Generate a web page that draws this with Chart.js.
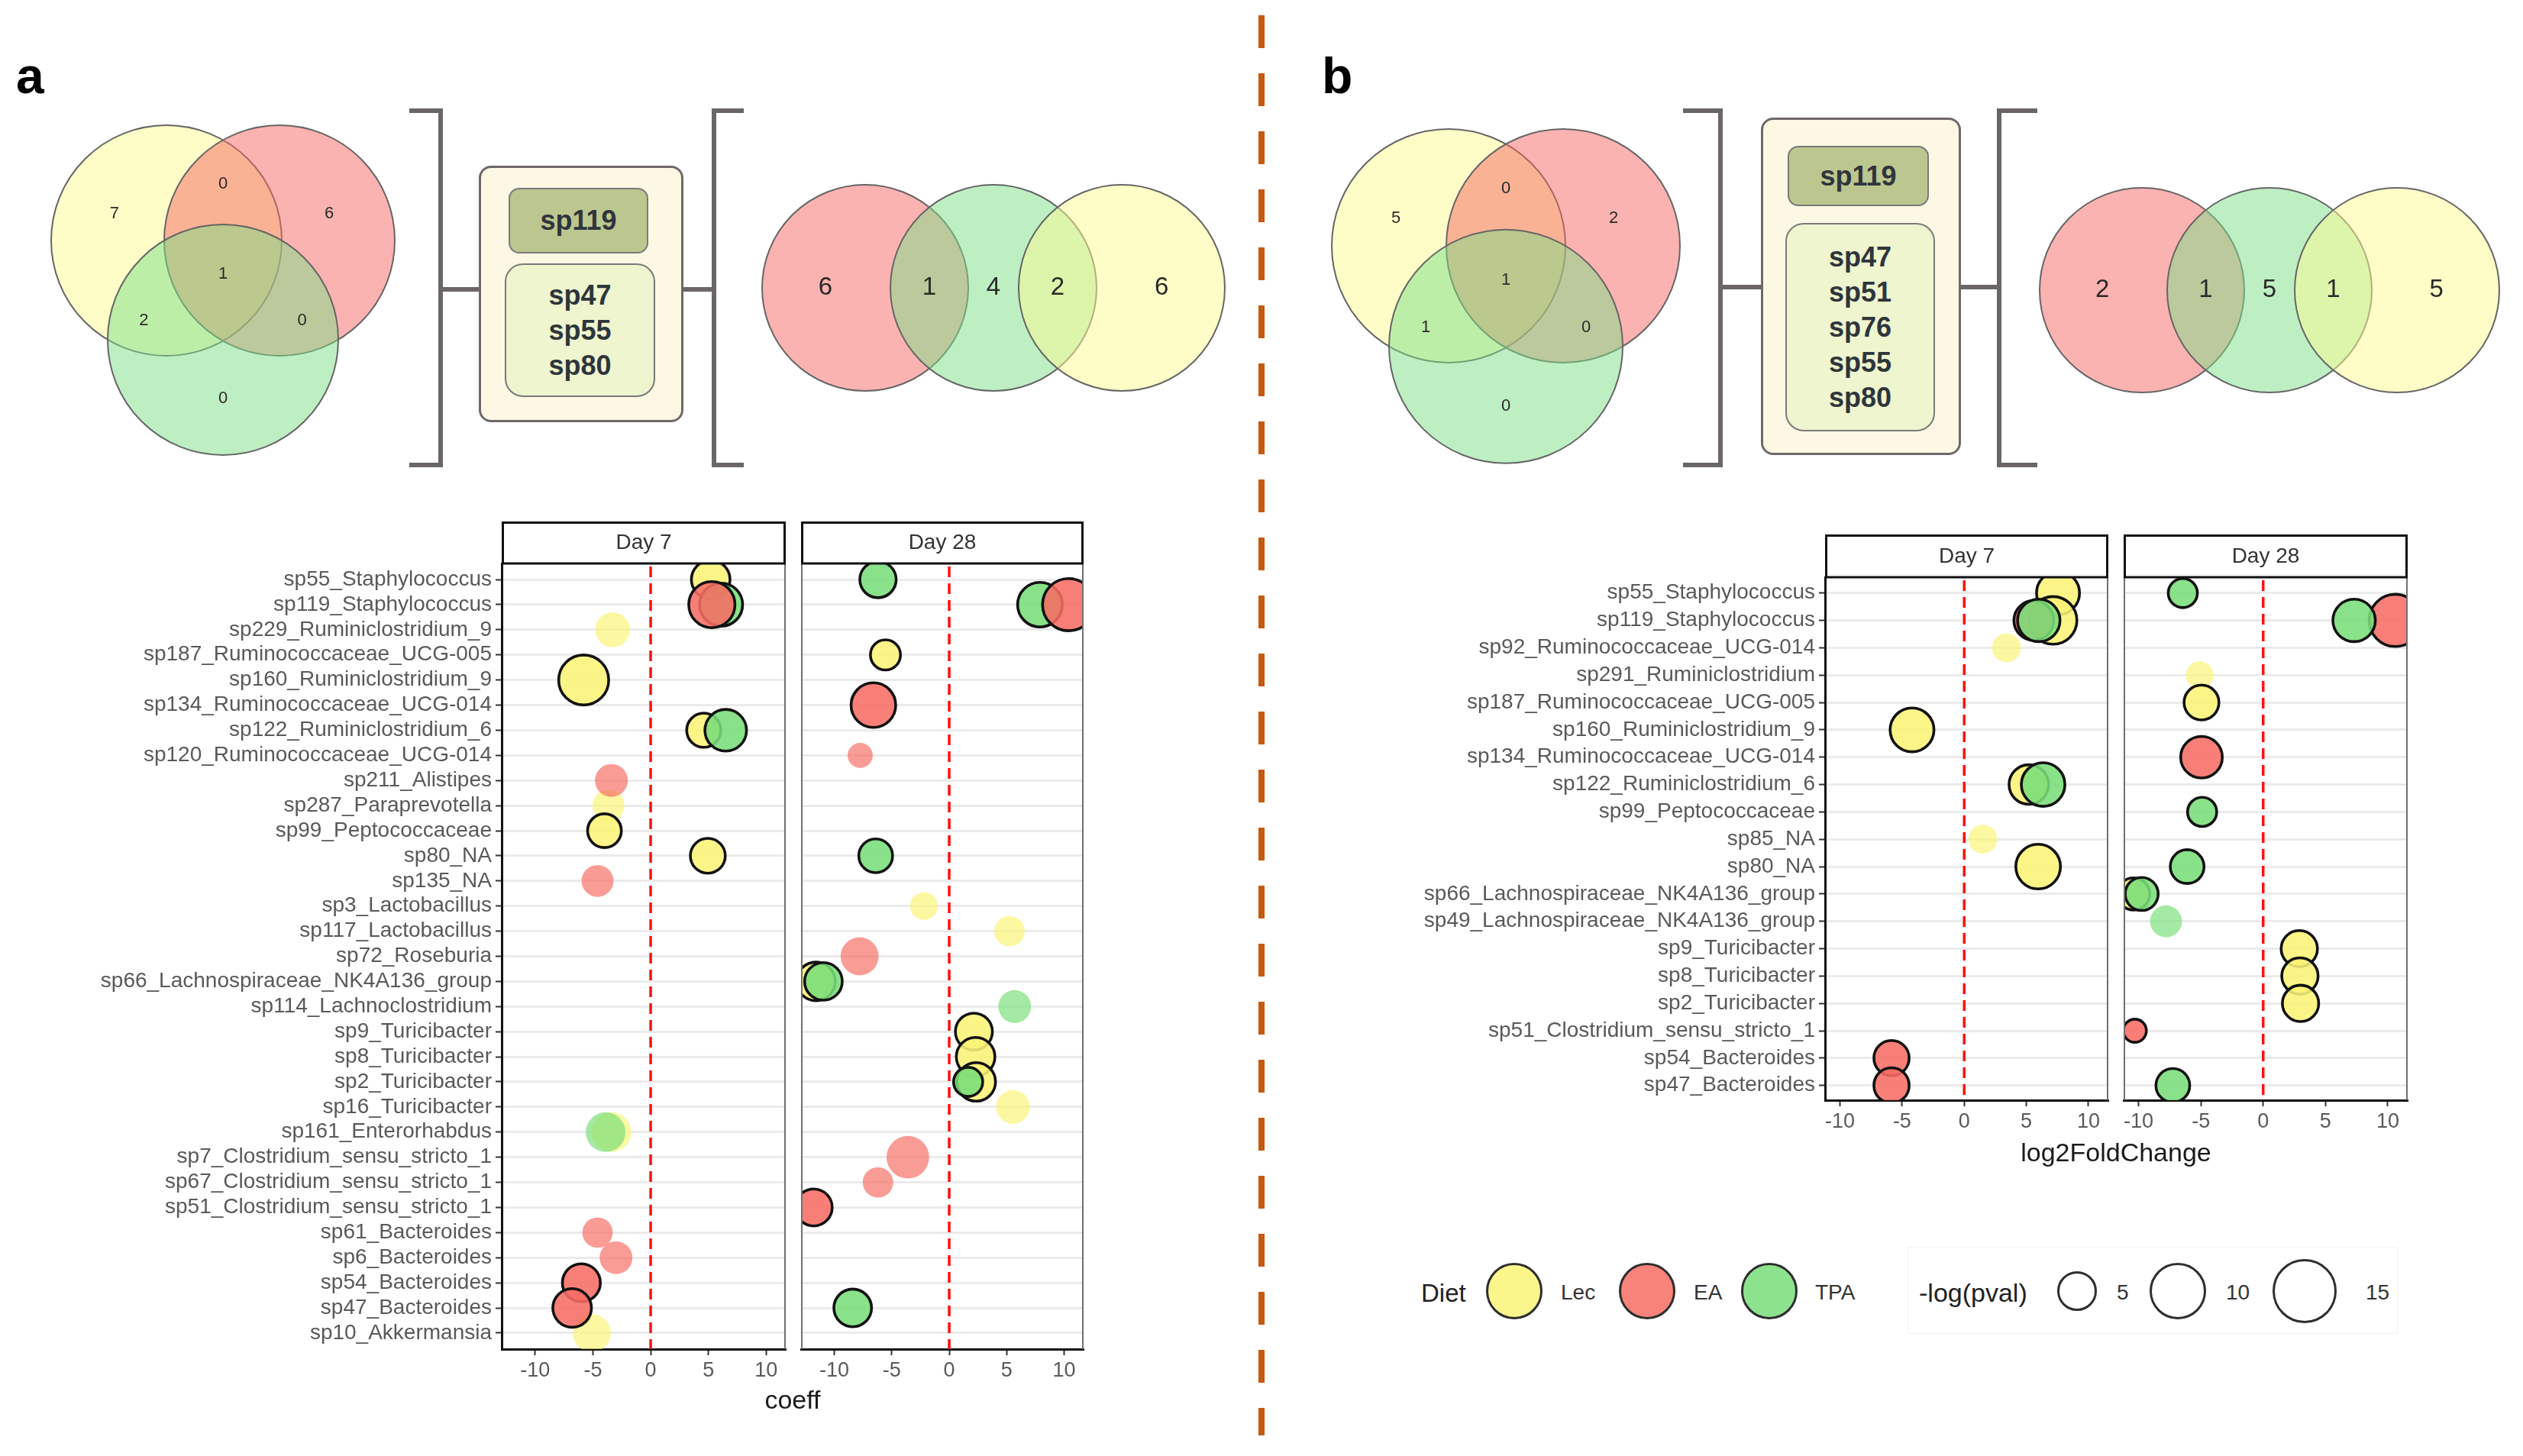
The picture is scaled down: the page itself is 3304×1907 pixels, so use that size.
<!DOCTYPE html>
<html lang="en">
<head>
<meta charset="UTF-8">
<title>Shared species and diet effects - panels a and b</title>
<script src="https://cdn.jsdelivr.net/npm/chart.js"></script>
<style>
    body {
        margin: 0;
        background: #fff;
        font-family: "Liberation Sans", Arial, Helvetica, sans-serif;
    }
    #page {
        position: relative;
        width: 3304px;
        height: 1907px;
        overflow: hidden;
        background: #fff;
    }
    canvas { position: absolute; }
    .tag {
        position: absolute;
        font-size: 66px;
        line-height: 66px;
        font-weight: bold;
        color: #000;
    }
    .divider {
        position: absolute;
        left: 1648px;
        top: 20px;
        width: 8px;
        height: 1860px;
        background: repeating-linear-gradient(to bottom, #c55a11 0 43px, transparent 43px 76px);
    }
    .bracket { position: absolute; box-sizing: border-box; border: 6px solid #6b6666; }
    .bracket.close { border-left: none; }
    .bracket.open { border-right: none; }
    .stem { position: absolute; height: 6px; background: #6b6666; }
    .core {
        position: absolute;
        box-sizing: border-box;
        background: #fdf8e4;
        border: 3px solid #6e6868;
        border-radius: 16px;
    }
    .core-box {
        position: absolute;
        box-sizing: border-box;
        border: 2px solid #7a7a7a;
        display: flex;
        flex-direction: column;
        justify-content: center;
        align-items: center;
        font-weight: bold;
        font-size: 36px;
        line-height: 46px;
        color: #2f353b;
    }
    .core-box.all { background: #bcc78f; border-radius: 14px; }
    .core-box.some { background: #eef5cf; border-radius: 24px; }
    .axis-title {
        position: absolute;
        font-size: 34px;
        line-height: 34px;
        color: #1a1a1a;
        transform: translate(-50%, -50%);
        white-space: nowrap;
    }
    .lg-text {
        position: absolute;
        line-height: 1;
        transform: translateY(-50%);
        color: #333;
        white-space: nowrap;
    }
    .lg-dot {
        position: absolute;
        box-sizing: border-box;
        border-radius: 50%;
        border: 3px solid #2e2e2e;
    }
</style>
</head>
<body>
<div id="page">
    <canvas id="vennA" width="1650" height="640" style="left:0;top:0"></canvas>
    <canvas id="vennB" width="1654" height="640" style="left:1650px;top:0"></canvas>

    <canvas id="aDay7" width="1034" height="1136" style="left:0;top:683px"></canvas>
    <canvas id="aDay28" width="385" height="1136" style="left:1039px;top:683px"></canvas>
    <canvas id="bDay7" width="986" height="793" style="left:1780px;top:700px"></canvas>
    <canvas id="bDay28" width="387" height="793" style="left:2771px;top:700px"></canvas>

    <div class="divider"></div>
    <div class="tag" style="left:21px;top:66px">a</div>
    <div class="tag" style="left:1731px;top:66px">b</div>

    <!-- panel a: core species box between the Venn diagrams -->
    <div class="bracket close" style="left:536px;top:142px;width:44px;height:470px"></div>
    <div class="stem" style="left:580px;top:376px;width:47px"></div>
    <div class="core" style="left:627px;top:217px;width:268px;height:336px"></div>
    <div class="core-box all" id="aTop" style="left:666px;top:246px;width:183px;height:86px"></div>
    <div class="core-box some" id="aBottom" style="left:661px;top:345px;width:197px;height:175px"></div>
    <div class="stem" style="left:895px;top:376px;width:37px"></div>
    <div class="bracket open" style="left:932px;top:142px;width:42px;height:470px"></div>

    <!-- panel b -->
    <div class="bracket close" style="left:2204px;top:142px;width:52px;height:470px"></div>
    <div class="stem" style="left:2256px;top:373px;width:50px"></div>
    <div class="core" style="left:2306px;top:154px;width:262px;height:442px"></div>
    <div class="core-box all" id="bTop" style="left:2341px;top:191px;width:185px;height:79px"></div>
    <div class="core-box some" id="bBottom" style="left:2338px;top:292px;width:196px;height:273px"></div>
    <div class="stem" style="left:2568px;top:373px;width:50px"></div>
    <div class="bracket open" style="left:2615px;top:142px;width:53px;height:470px"></div>

    <div class="axis-title" style="left:1038px;top:1833px">coeff</div>
    <div class="axis-title" style="left:2771px;top:1509px">log2FoldChange</div>

    <!-- legend -->
    <div class="lg-text" style="left:1861px;top:1693px;font-size:33px;color:#222">Diet</div>
    <div class="lg-dot" style="left:1946px;top:1654px;width:74px;height:74px;background:#fbf68b"></div>
    <div class="lg-text" style="left:2044px;top:1693px;font-size:28px">Lec</div>
    <div class="lg-dot" style="left:2120px;top:1654px;width:74px;height:74px;background:#f8837b"></div>
    <div class="lg-text" style="left:2218px;top:1693px;font-size:28px">EA</div>
    <div class="lg-dot" style="left:2280px;top:1654px;width:74px;height:74px;background:#8de38d"></div>
    <div class="lg-text" style="left:2377px;top:1693px;font-size:28px">TPA</div>
    <div style="position:absolute;left:2498px;top:1633px;width:640px;height:112px;border:1px solid #f2f2f2"></div>
    <div class="lg-text" style="left:2513px;top:1693px;font-size:34px;color:#222">-log(pval)</div>
    <div class="lg-dot" style="left:2694px;top:1665px;width:52px;height:52px"></div>
    <div class="lg-text" style="left:2772px;top:1693px;font-size:28px">5</div>
    <div class="lg-dot" style="left:2815px;top:1654px;width:74px;height:74px"></div>
    <div class="lg-text" style="left:2915px;top:1693px;font-size:28px">10</div>
    <div class="lg-dot" style="left:2976px;top:1649px;width:84px;height:84px"></div>
    <div class="lg-text" style="left:3098px;top:1693px;font-size:28px">15</div>
</div>

<script>
    // ---------- data ----------
    // Venn counts: Lec only, Lec+EA, EA only, all three, Lec+TPA, EA+TPA, TPA only
    const vennATriple = [7, 0, 6, 1, 2, 0, 0];
    const vennBTriple = [5, 0, 2, 1, 1, 0, 0];
    // chained Venn (EA | EA+TPA | TPA | TPA+Lec | Lec)
    const vennAChain = [6, 1, 4, 2, 6];
    const vennBChain = [2, 1, 5, 1, 5];

    const aCoreAll = ['sp119'];
    const aCoreSome = ['sp47', 'sp55', 'sp80'];
    const bCoreAll = ['sp119'];
    const bCoreSome = ['sp47', 'sp51', 'sp76', 'sp55', 'sp80'];

    const xTicks = [-10, -5, 0, 5, 10];

    const aSpecies = ['sp55_Staphylococcus', 'sp119_Staphylococcus', 'sp229_Ruminiclostridium_9',
        'sp187_Ruminococcaceae_UCG-005', 'sp160_Ruminiclostridium_9', 'sp134_Ruminococcaceae_UCG-014',
        'sp122_Ruminiclostridium_6', 'sp120_Ruminococcaceae_UCG-014', 'sp211_Alistipes',
        'sp287_Paraprevotella', 'sp99_Peptococcaceae', 'sp80_NA', 'sp135_NA', 'sp3_Lactobacillus',
        'sp117_Lactobacillus', 'sp72_Roseburia', 'sp66_Lachnospiraceae_NK4A136_group',
        'sp114_Lachnoclostridium', 'sp9_Turicibacter', 'sp8_Turicibacter', 'sp2_Turicibacter',
        'sp16_Turicibacter', 'sp161_Enterorhabdus', 'sp7_Clostridium_sensu_stricto_1',
        'sp67_Clostridium_sensu_stricto_1', 'sp51_Clostridium_sensu_stricto_1', 'sp61_Bacteroides',
        'sp6_Bacteroides', 'sp54_Bacteroides', 'sp47_Bacteroides', 'sp10_Akkermansia'];

    const bSpecies = ['sp55_Staphylococcus', 'sp119_Staphylococcus', 'sp92_Ruminococcaceae_UCG-014',
        'sp291_Ruminiclostridium', 'sp187_Ruminococcaceae_UCG-005', 'sp160_Ruminiclostridium_9',
        'sp134_Ruminococcaceae_UCG-014', 'sp122_Ruminiclostridium_6', 'sp99_Peptococcaceae', 'sp85_NA',
        'sp80_NA', 'sp66_Lachnospiraceae_NK4A136_group', 'sp49_Lachnospiraceae_NK4A136_group',
        'sp9_Turicibacter', 'sp8_Turicibacter', 'sp2_Turicibacter', 'sp51_Clostridium_sensu_stricto_1',
        'sp54_Bacteroides', 'sp47_Bacteroides'];

    // rows: [species, effect, -log(pval), significant]
    const aDay7Lec = [['sp55_Staphylococcus', 5.2, 4.6, 1], ['sp229_Ruminiclostridium_9', -3.3, 2.8, 0],
        ['sp160_Ruminiclostridium_9', -5.8, 8.9, 1], ['sp122_Ruminiclostridium_6', 4.6, 3.3, 1],
        ['sp287_Paraprevotella', -3.65, 2.1, 0], ['sp99_Peptococcaceae', -4.0, 3.2, 1],
        ['sp80_NA', 4.95, 3.5, 1], ['sp161_Enterorhabdus', -3.4, 4.1, 0], ['sp10_Akkermansia', -5.1, 3.6, 0]];
    const aDay7EA = [['sp119_Staphylococcus', 5.3, 7.3, 1], ['sp211_Alistipes', -3.4, 2.3, 0],
        ['sp135_NA', -4.6, 2.1, 0], ['sp61_Bacteroides', -4.6, 1.8, 0], ['sp6_Bacteroides', -3.0, 2.3, 0],
        ['sp54_Bacteroides', -6.0, 4.4, 1], ['sp47_Bacteroides', -6.8, 4.6, 1]];
    const aDay7TPA = [['sp119_Staphylococcus', 6.1, 6.1, 1], ['sp122_Ruminiclostridium_6', 6.5, 5.6, 1],
        ['sp161_Enterorhabdus', -3.9, 4.1, 0]];
    const aDay28Lec = [['sp187_Ruminococcaceae_UCG-005', -5.55, 2.3, 1], ['sp3_Lactobacillus', -2.2, 1.3, 0],
        ['sp117_Lactobacillus', 5.25, 1.8, 0], ['sp66_Lachnospiraceae_NK4A136_group', -11.6, 4.6, 1],
        ['sp9_Turicibacter', 2.15, 4.1, 1], ['sp8_Turicibacter', 2.3, 4.6, 1],
        ['sp2_Turicibacter', 2.35, 4.6, 1], ['sp16_Turicibacter', 5.55, 2.5, 0]];
    const aDay28EA = [['sp119_Staphylococcus', 10.4, 9.9, 1], ['sp134_Ruminococcaceae_UCG-014', -6.6, 6.7, 1],
        ['sp120_Ruminococcaceae_UCG-014', -7.75, 0.9, 0], ['sp72_Roseburia', -7.8, 3.6, 0],
        ['sp7_Clostridium_sensu_stricto_1', -3.6, 5.0, 0], ['sp67_Clostridium_sensu_stricto_1', -6.2, 1.8, 0],
        ['sp51_Clostridium_sensu_stricto_1', -11.8, 4.1, 1]];
    const aDay28TPA = [['sp55_Staphylococcus', -6.2, 3.9, 1], ['sp119_Staphylococcus', 7.9, 6.7, 1],
        ['sp80_NA', -6.4, 3.2, 1], ['sp66_Lachnospiraceae_NK4A136_group', -10.95, 4.3, 1],
        ['sp114_Lachnoclostridium', 5.7, 2.3, 0], ['sp2_Turicibacter', 1.65, 2.1, 1],
        ['sp47_Bacteroides', -8.4, 4.3, 1]];

    const bDay7Lec = [['sp55_Staphylococcus', 7.55, 6.1, 1], ['sp119_Staphylococcus', 7.15, 7.9, 1],
        ['sp92_Ruminococcaceae_UCG-014', 3.4, 1.5, 0], ['sp160_Ruminiclostridium_9', -4.2, 6.4, 1],
        ['sp122_Ruminiclostridium_6', 5.2, 4.9, 1], ['sp85_NA', 1.5, 1.5, 0], ['sp80_NA', 5.95, 6.7, 1]];
    const bDay7EA = [['sp119_Staphylococcus', 5.6, 5.0, 1], ['sp54_Bacteroides', -5.85, 3.6, 1],
        ['sp47_Bacteroides', -5.85, 3.6, 1]];
    const bDay7TPA = [['sp119_Staphylococcus', 6.0, 5.9, 1], ['sp122_Ruminiclostridium_6', 6.35, 6.3, 1]];
    const bDay28Lec = [['sp291_Ruminiclostridium', -5.1, 1.3, 0], ['sp187_Ruminococcaceae_UCG-005', -4.95, 3.5, 1],
        ['sp66_Lachnospiraceae_NK4A136_group', -10.4, 2.8, 1], ['sp9_Turicibacter', 2.9, 3.9, 1],
        ['sp8_Turicibacter', 2.95, 3.9, 1], ['sp2_Turicibacter', 3.0, 3.9, 1]];
    const bDay28EA = [['sp119_Staphylococcus', 10.6, 9.9, 1], ['sp134_Ruminococcaceae_UCG-014', -4.95, 5.6, 1],
        ['sp51_Clostridium_sensu_stricto_1', -10.3, 1.0, 1]];
    const bDay28TPA = [['sp55_Staphylococcus', -6.45, 2.1, 1], ['sp119_Staphylococcus', 7.3, 5.9, 1],
        ['sp99_Peptococcaceae', -4.9, 2.1, 1], ['sp80_NA', -6.1, 3.2, 1],
        ['sp66_Lachnospiraceae_NK4A136_group', -9.75, 3.0, 1], ['sp49_Lachnospiraceae_NK4A136_group', -7.8, 2.1, 0],
        ['sp47_Bacteroides', -7.25, 3.2, 1]];

    // ---------- styling ----------
    Chart.defaults.font.family = '"Liberation Sans", Arial, Helvetica, sans-serif';
    Chart.defaults.animation = false;

    const dietColor = { Lec: '250,244,118', EA: '247,109,100', TPA: '121,222,121' };
    const vennFill = { Lec: 'rgba(253,251,145,0.5)', EA: 'rgba(247,103,99,0.5)', TPA: 'rgba(125,223,135,0.5)' };

    // bubble radius in px from -log(pval)
    function sizeOf(v, sig) {
        return 8 + 8.9 * Math.sqrt(v) - (sig ? 1.8 : 0);
    }

    // core species lists
    function fillCore(id, list) {
        document.getElementById(id).innerHTML = list.map(s => '<div>' + s + '</div>').join('');
    }
    fillCore('aTop', aCoreAll);
    fillCore('aBottom', aCoreSome);
    fillCore('bTop', bCoreAll);
    fillCore('bBottom', bCoreSome);

    // ---------- Venn diagrams ----------
    const vennText = {
        id: 'vennText',
        afterDatasetsDraw(chart, args, opts) {
            const { ctx, scales: { x, y } } = chart;
            ctx.save();
            ctx.textAlign = 'center';
            ctx.textBaseline = 'middle';
            ctx.fillStyle = '#2a2a2a';
            opts.labels.forEach(l => {
                ctx.font = l.size + 'px "Liberation Sans", Arial, sans-serif';
                ctx.fillText(String(l.text), x.getPixelForValue(l.x), y.getPixelForValue(l.y));
            });
            ctx.restore();
        }
    };

    const tripleOffsets = [[-0.96, -0.24], [0, -0.5], [0.94, -0.24], [0, 0.3], [-0.7, 0.71], [0.7, 0.71], [0, 1.4]];
    const chainOffsets = [-1.31, -0.5, 0, 0.5, 1.31];

    function vennChart(id, W, H, tri, chain, triCounts, chainCounts) {
        const circles = [
            { x: tri.cx - tri.d / 2, y: tri.cy, rad: tri.r, set: 'Lec' },
            { x: tri.cx + tri.d / 2, y: tri.cy, rad: tri.r, set: 'EA' },
            { x: tri.cx, y: tri.cy + 0.878 * tri.d, rad: tri.r, set: 'TPA' },
            { x: chain.cx - chain.d, y: chain.cy, rad: chain.r, set: 'EA' },
            { x: chain.cx, y: chain.cy, rad: chain.r, set: 'TPA' },
            { x: chain.cx + chain.d, y: chain.cy, rad: chain.r, set: 'Lec' }
        ];
        const labels = triCounts.map((n, i) => ({
            text: n, size: 22,
            x: tri.cx + tripleOffsets[i][0] * tri.d,
            y: tri.cy + tripleOffsets[i][1] * tri.d
        })).concat(chainCounts.map((n, i) => ({
            text: n, size: 33, x: chain.cx + chainOffsets[i] * chain.d, y: chain.cy
        })));

        new Chart(document.getElementById(id), {
            type: 'scatter',
            data: {
                datasets: [{
                    data: circles,
                    clip: false,
                    showLine: false,
                    pointBackgroundColor: c => c.raw ? vennFill[c.raw.set] : 'transparent',
                    pointBorderColor: '#666',
                    pointBorderWidth: 2,
                    pointRadius: c => {
                        const s = c.chart.scales.x;
                        const r = c.raw ? s.getPixelForValue(c.raw.rad) - s.getPixelForValue(0) : 0;
                        return isFinite(r) ? r : 0;
                    }
                }]
            },
            options: {
                responsive: false,
                devicePixelRatio: 1,
                events: [],
                layout: { padding: 0, autoPadding: false },
                plugins: { legend: { display: false }, tooltip: { enabled: false }, vennText: { labels } },
                scales: {
                    x: { type: 'linear', min: 0, max: W, display: false },
                    y: { type: 'linear', min: 0, max: H, reverse: true, display: false }
                }
            },
            plugins: [vennText]
        });
    }

    vennChart('vennA', 1650, 640, { cx: 292, cy: 315, d: 148, r: 151 }, { cx: 1301, cy: 377, d: 168, r: 135 },
        vennATriple, vennAChain);
    vennChart('vennB', 1654, 640, { cx: 322, cy: 322, d: 150, r: 153 }, { cx: 1322, cy: 380, d: 167, r: 134 },
        vennBTriple, vennBChain);

    // ---------- faceted dot plots ----------
    const facetDeco = {
        id: 'facetDeco',
        beforeDatasetsDraw(chart) {
            const { ctx, chartArea: a, scales: { x } } = chart;
            const px = x.getPixelForValue(0);
            ctx.save();
            ctx.strokeStyle = '#ff1010';
            ctx.lineWidth = 3.5;
            ctx.setLineDash([14, 8]);
            ctx.beginPath();
            ctx.moveTo(px, a.top + 4);
            ctx.lineTo(px, a.bottom);
            ctx.stroke();
            ctx.restore();
        },
        afterDraw(chart, args, o) {
            const { ctx, chartArea: a } = chart;
            ctx.save();
            ctx.strokeStyle = '#707070';
            ctx.lineWidth = 2;
            ctx.beginPath();
            ctx.moveTo(a.right - 1, a.top);
            ctx.lineTo(a.right - 1, a.bottom);
            if (!o.axisLeft) {
                ctx.moveTo(a.left + 1, a.top);
                ctx.lineTo(a.left + 1, a.bottom);
            }
            ctx.stroke();

            // facet strip
            const top = a.top - o.stripH;
            ctx.fillStyle = '#fff';
            ctx.fillRect(a.left, top, a.right - a.left, o.stripH);
            ctx.strokeStyle = '#111';
            ctx.lineWidth = 3;
            ctx.strokeRect(a.left + 1.5, top + 1.5, a.right - a.left - 3, o.stripH - 1.5);
            ctx.fillStyle = '#333';
            ctx.font = '28px "Liberation Sans", Arial, sans-serif';
            ctx.textAlign = 'center';
            ctx.textBaseline = 'middle';
            ctx.fillText(o.title, (a.left + a.right) / 2, top + o.stripH / 2 + 1);
            ctx.restore();
        }
    };

    function dietDataset(diet, rows, species) {
        const col = dietColor[diet];
        return {
            label: diet,
            data: rows.map(([sp, x, v, sig]) => ({ x, y: species.indexOf(sp), v, sig })),
            clip: 0,
            backgroundColor: c => c.raw ? 'rgba(' + col + ',' + (c.raw.sig ? 0.88 : 0.68) + ')' : 'transparent',
            borderColor: '#121212',
            borderWidth: c => (c.raw && c.raw.sig) ? 3.6 : 0,
            radius: c => c.raw ? sizeOf(c.raw.v, c.raw.sig) : 0
        };
    }

    function facetChart(id, cfg) {
        new Chart(document.getElementById(id), {
            type: 'bubble',
            data: { datasets: cfg.order.map(d => dietDataset(d, cfg.rows[d], cfg.species)) },
            options: {
                responsive: false,
                devicePixelRatio: 1,
                events: [],
                layout: { padding: { top: cfg.stripH, right: 5, left: 0, bottom: 0 }, autoPadding: false },
                plugins: {
                    legend: { display: false },
                    tooltip: { enabled: false },
                    facetDeco: { title: cfg.title, stripH: cfg.stripH, axisLeft: cfg.labels }
                },
                scales: {
                    x: {
                        type: 'linear',
                        min: cfg.xMin,
                        max: cfg.xMax,
                        afterBuildTicks: ax => { ax.ticks = xTicks.map(v => ({ value: v })); },
                        afterFit: ax => { ax.height = 52; ax.paddingLeft = 0; ax.paddingRight = 0; },
                        grid: { drawOnChartArea: false, drawTicks: true, tickLength: 8, tickWidth: 2, tickColor: '#333' },
                        border: { display: true, color: '#111', width: 3 },
                        ticks: { color: '#595959', font: { size: 27 }, padding: 4, maxRotation: 0, autoSkip: false }
                    },
                    y: {
                        type: 'linear',
                        reverse: true,
                        min: cfg.yMin,
                        max: cfg.yMax,
                        afterBuildTicks: ax => { ax.ticks = cfg.species.map((s, i) => ({ value: i })); },
                        afterFit: ax => { ax.width = cfg.yWidth; ax.paddingTop = 0; ax.paddingBottom = 0; },
                        grid: { color: '#ebebeb', lineWidth: 3, drawTicks: cfg.labels, tickLength: 8, tickWidth: 2, tickColor: '#333' },
                        border: { display: cfg.labels, color: '#111', width: 3 },
                        ticks: {
                            display: cfg.labels,
                            color: '#595959',
                            font: { size: 28 },
                            padding: 5,
                            autoSkip: false,
                            callback: v => cfg.species[v]
                        }
                    }
                }
            },
            plugins: [facetDeco]
        });
    }

    const aBase = { species: aSpecies, order: ['EA', 'TPA', 'Lec'], xMin: -12.9, xMax: 11.7, yMin: -0.64, yMax: 30.64, stripH: 55 };
    const bBase = { species: bSpecies, order: ['TPA', 'EA', 'Lec'], xMin: -11.2, xMax: 11.6, yMin: -0.58, yMax: 18.54, stripH: 56 };

    facetChart('aDay7', Object.assign({}, aBase, { title: 'Day 7', labels: true, yWidth: 657,
        rows: { Lec: aDay7Lec, EA: aDay7EA, TPA: aDay7TPA } }));
    facetChart('aDay28', Object.assign({}, aBase, { title: 'Day 28', labels: false, yWidth: 10,
        rows: { Lec: aDay28Lec, EA: aDay28EA, TPA: aDay28TPA } }));
    facetChart('bDay7', Object.assign({}, bBase, { title: 'Day 7', labels: true, yWidth: 610,
        rows: { Lec: bDay7Lec, EA: bDay7EA, TPA: bDay7TPA } }));
    facetChart('bDay28', Object.assign({}, bBase, { title: 'Day 28', labels: false, yWidth: 10,
        rows: { Lec: bDay28Lec, EA: bDay28EA, TPA: bDay28TPA } }));
</script>
</body>
</html>
